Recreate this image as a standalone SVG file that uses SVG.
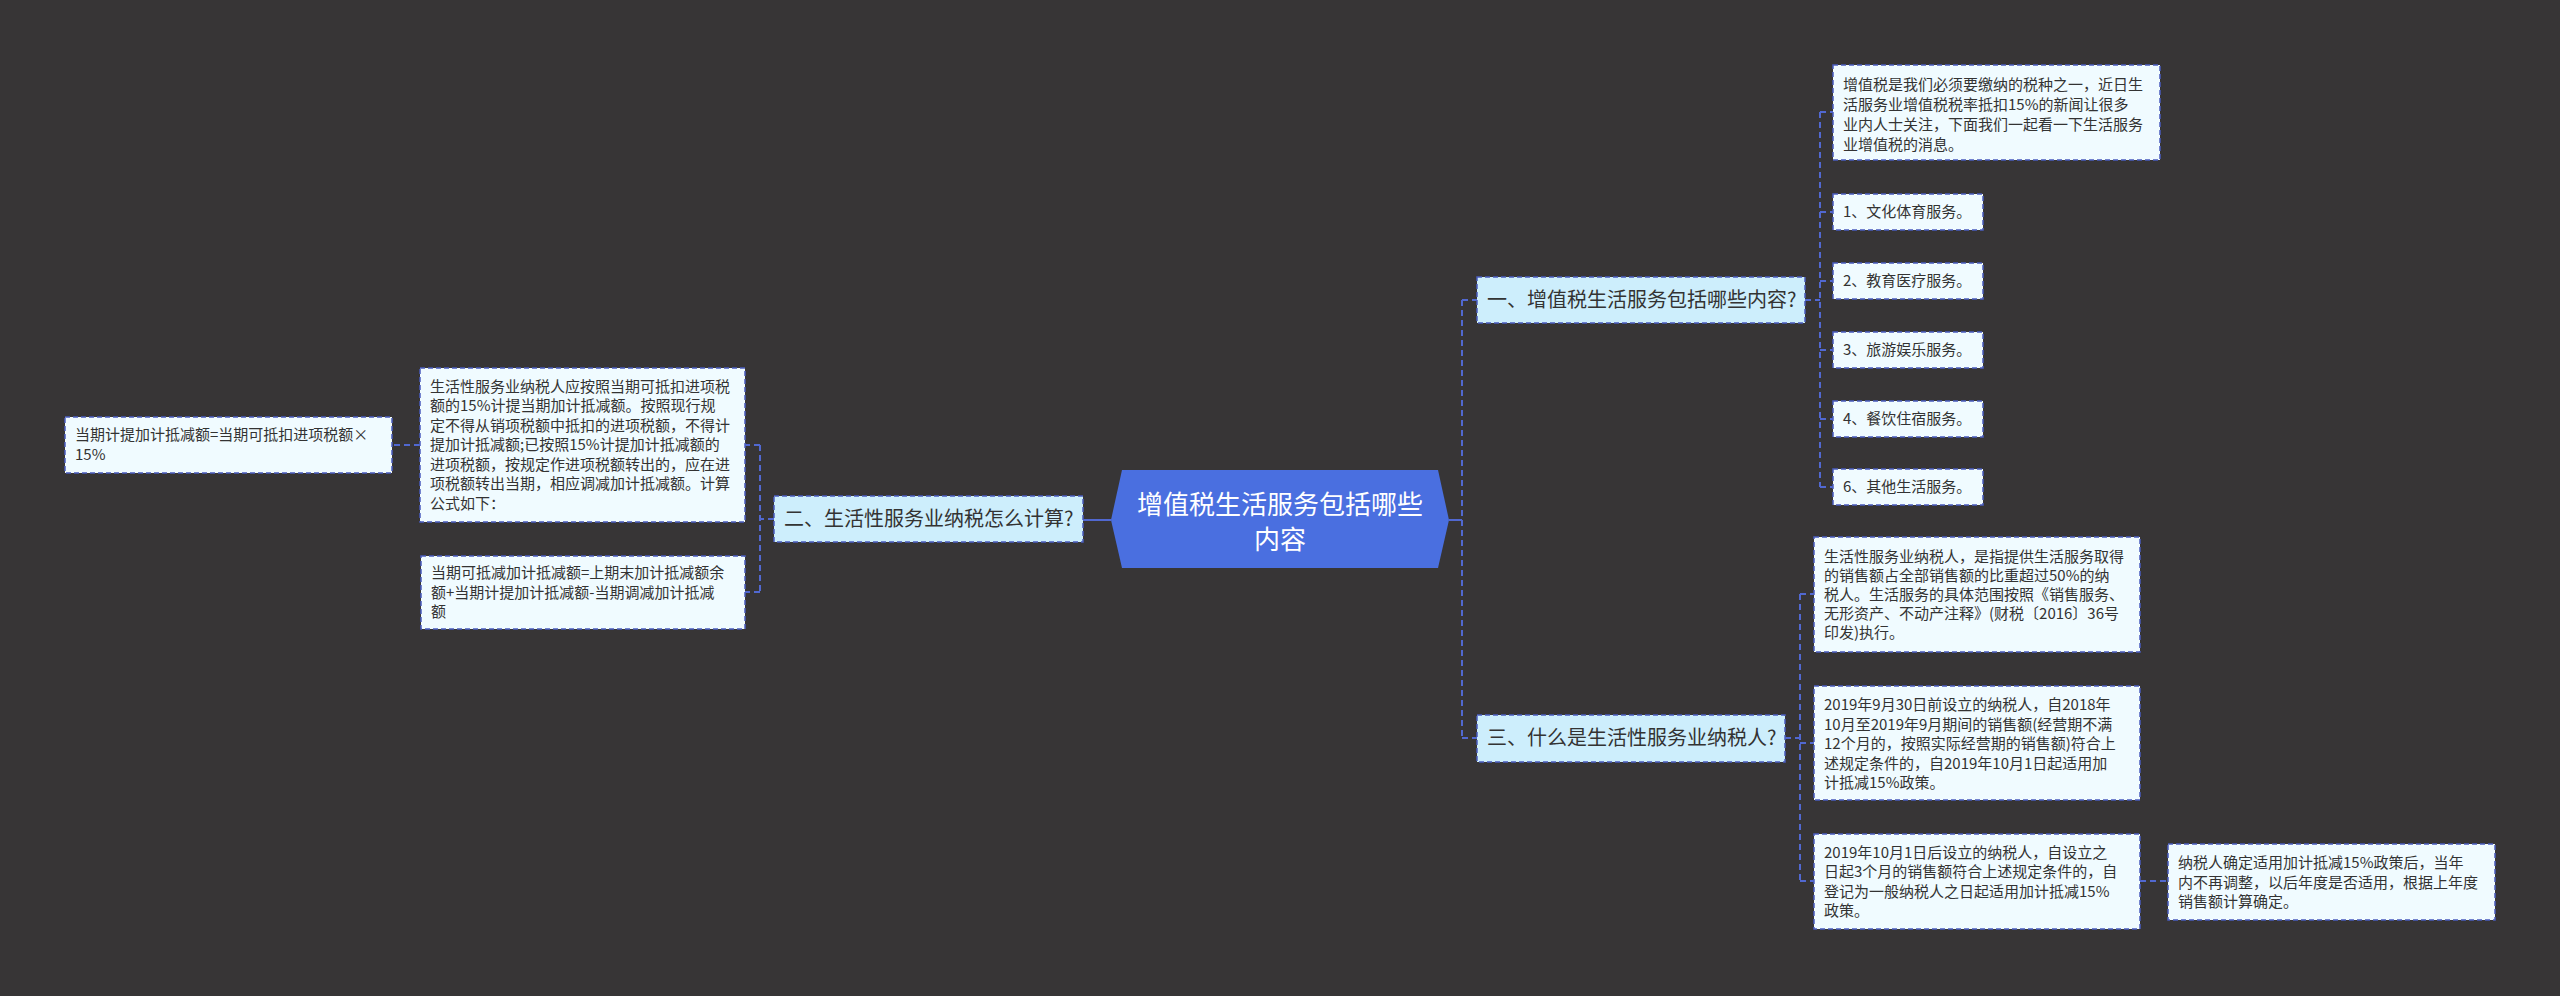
<svg xmlns="http://www.w3.org/2000/svg" width="2560" height="996" viewBox="0 0 2560 996">
<style>
.bg{fill:#373536}
.leaf{fill:#f0fbff;stroke:#4a5cbf;stroke-width:1.5;stroke-dasharray:5 3}
.br{fill:#cdeefc;stroke:#4a5cbf;stroke-width:1.5;stroke-dasharray:5 3}
.t{font-family:"Noto Sans CJK SC","Noto Sans",sans-serif;font-size:15px;fill:#333333}
.bt{font-family:"Noto Sans CJK SC","Noto Sans",sans-serif;font-size:20px;fill:#333333}
.ct{font-family:"Noto Sans CJK SC","Noto Sans",sans-serif;font-size:26px;fill:#ffffff;text-anchor:middle}
.c{fill:none;stroke:#5168d0;stroke-width:2;stroke-dasharray:6 4}
.cs{fill:none;stroke:#5168d0;stroke-width:2}
</style>
<rect class="bg" x="0" y="0" width="2560" height="996"/>
<g id="connectors">
<path class="cs" d="M1449 520 H1462"/>
<path class="cs" d="M1111 520 H1083"/>
<path class="c" d="M1462 300 V738 M1462 300 H1477 M1462 738 H1477"/>
<path class="c" d="M1805 300 H1820 M1820 112 V487 M1820 112 H1833 M1820 212 H1833 M1820 281 H1833 M1820 350 H1833 M1820 419 H1833 M1820 487 H1833"/>
<path class="c" d="M1785 738 H1800 M1800 594 V881 M1800 594 H1814 M1800 743 H1814 M1800 881 H1814"/>
<path class="c" d="M2140 881 H2168"/>
<path class="c" d="M774 519 H760 M760 445 V592 M760 445 H745 M760 592 H745"/>
<path class="c" d="M420 445 H392"/>
</g>
<g id="center">
<polygon points="1111,520 1122,470 1438,470 1449,520 1438,568 1122,568" fill="#4a6fe0"/>
<text class="ct" x="1280" y="514">增值税生活服务包括哪些</text>
<text class="ct" x="1280" y="549">内容</text>
</g>
<g id="b1">
<rect class="br" x="1477" y="277" width="328" height="46"/>
<text class="bt" x="1487" y="307">一、增值税生活服务包括哪些内容?</text>
</g>
<g id="b1-intro">
<rect class="leaf" x="1833" y="65" width="327" height="95"/>
<text class="t" x="1843" y="90">增值税是我们必须要缴纳的税种之一，近日生</text>
<text class="t" x="1843" y="110">活服务业增值税税率抵扣15%的新闻让很多</text>
<text class="t" x="1843" y="130">业内人士关注，下面我们一起看一下生活服务</text>
<text class="t" x="1843" y="150">业增值税的消息。</text>
</g>
<g id="b1-1">
<rect class="leaf" x="1833" y="194" width="150" height="36"/>
<text class="t" x="1843" y="217">1、文化体育服务。</text>
</g>
<g id="b1-2">
<rect class="leaf" x="1833" y="263" width="150" height="36"/>
<text class="t" x="1843" y="286">2、教育医疗服务。</text>
</g>
<g id="b1-3">
<rect class="leaf" x="1833" y="332" width="150" height="36"/>
<text class="t" x="1843" y="355">3、旅游娱乐服务。</text>
</g>
<g id="b1-4">
<rect class="leaf" x="1833" y="401" width="150" height="36"/>
<text class="t" x="1843" y="424">4、餐饮住宿服务。</text>
</g>
<g id="b1-6">
<rect class="leaf" x="1833" y="469" width="150" height="36"/>
<text class="t" x="1843" y="492">6、其他生活服务。</text>
</g>
<g id="b3">
<rect class="br" x="1477" y="715" width="308" height="47"/>
<text class="bt" x="1487" y="745">三、什么是生活性服务业纳税人?</text>
</g>
<g id="b3-a">
<rect class="leaf" x="1814" y="537" width="326" height="115"/>
<text class="t" x="1824" y="561.5">生活性服务业纳税人，是指提供生活服务取得</text>
<text class="t" x="1824" y="580.5">的销售额占全部销售额的比重超过50%的纳</text>
<text class="t" x="1824" y="599.5">税人。生活服务的具体范围按照《销售服务、</text>
<text class="t" x="1824" y="618.5">无形资产、不动产注释》(财税〔2016〕36号</text>
<text class="t" x="1824" y="637.5">印发)执行。</text>
</g>
<g id="b3-b">
<rect class="leaf" x="1814" y="686" width="326" height="114"/>
<text class="t" x="1824" y="710">2019年9月30日前设立的纳税人，自2018年</text>
<text class="t" x="1824" y="729.5">10月至2019年9月期间的销售额(经营期不满</text>
<text class="t" x="1824" y="749">12个月的，按照实际经营期的销售额)符合上</text>
<text class="t" x="1824" y="768.5">述规定条件的，自2019年10月1日起适用加</text>
<text class="t" x="1824" y="788">计抵减15%政策。</text>
</g>
<g id="b3-c">
<rect class="leaf" x="1814" y="834" width="326" height="95"/>
<text class="t" x="1824" y="857.5">2019年10月1日后设立的纳税人，自设立之</text>
<text class="t" x="1824" y="877">日起3个月的销售额符合上述规定条件的，自</text>
<text class="t" x="1824" y="896.5">登记为一般纳税人之日起适用加计抵减15%</text>
<text class="t" x="1824" y="916">政策。</text>
</g>
<g id="b3-c-1">
<rect class="leaf" x="2168" y="844" width="327" height="76"/>
<text class="t" x="2178" y="868">纳税人确定适用加计抵减15%政策后，当年</text>
<text class="t" x="2178" y="887.5">内不再调整，以后年度是否适用，根据上年度</text>
<text class="t" x="2178" y="907">销售额计算确定。</text>
</g>
<g id="b2">
<rect class="br" x="774" y="496" width="309" height="46"/>
<text class="bt" x="784" y="526">二、生活性服务业纳税怎么计算?</text>
</g>
<g id="b2-a">
<rect class="leaf" x="420" y="368" width="325" height="154"/>
<text class="t" x="430" y="391.5">生活性服务业纳税人应按照当期可抵扣进项税</text>
<text class="t" x="430" y="411">额的15%计提当期加计抵减额。按照现行规</text>
<text class="t" x="430" y="430.5">定不得从销项税额中抵扣的进项税额，不得计</text>
<text class="t" x="430" y="450">提加计抵减额;已按照15%计提加计抵减额的</text>
<text class="t" x="430" y="469.5">进项税额，按规定作进项税额转出的，应在进</text>
<text class="t" x="430" y="489">项税额转出当期，相应调减加计抵减额。计算</text>
<text class="t" x="430" y="508.5">公式如下：</text>
</g>
<g id="b2-a-1">
<rect class="leaf" x="65" y="417" width="327" height="56"/>
<text class="t" x="75" y="440">当期计提加计抵减额=当期可抵扣进项税额×</text>
<text class="t" x="75" y="459.5">15%</text>
</g>
<g id="b2-b">
<rect class="leaf" x="421" y="556" width="324" height="73"/>
<text class="t" x="431" y="578">当期可抵减加计抵减额=上期末加计抵减额余</text>
<text class="t" x="431" y="597.5">额+当期计提加计抵减额-当期调减加计抵减</text>
<text class="t" x="431" y="617">额</text>
</g>
</svg>
